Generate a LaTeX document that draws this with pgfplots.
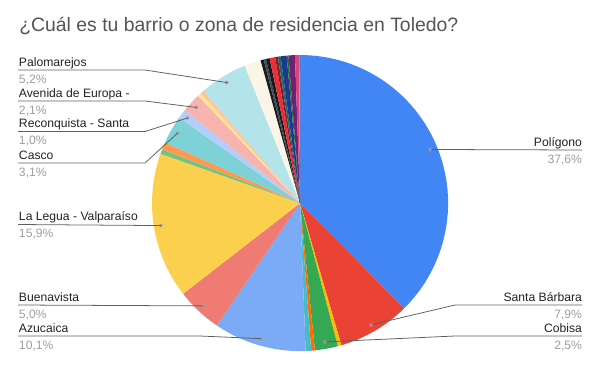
\documentclass[border=0pt]{standalone}
\usepackage{fontspec}
\setmainfont{Liberation Sans}
\usepackage{pgfplots}
\pgfplotsset{compat=1.18}
\definecolor{c1}{HTML}{4285F4}
\definecolor{c2}{HTML}{EA4335}
\definecolor{c3}{HTML}{FBBC04}
\definecolor{c4}{HTML}{34A853}
\definecolor{c5}{HTML}{FF6D01}
\definecolor{c6}{HTML}{46BDC6}
\definecolor{c7}{HTML}{7BAAF7}
\definecolor{c8}{HTML}{F07B72}
\definecolor{c9}{HTML}{FCD04F}
\definecolor{c10}{HTML}{71C287}
\definecolor{c11}{HTML}{FF994D}
\definecolor{c12}{HTML}{7ED1D7}
\definecolor{c13}{HTML}{B3CEFB}
\definecolor{c14}{HTML}{F7B4AE}
\definecolor{c15}{HTML}{FDE49B}
\definecolor{c16}{HTML}{FFC599}
\definecolor{c17}{HTML}{B3E4E9}
\definecolor{c18}{HTML}{FBF5E8}
\definecolor{k1}{HTML}{1B1B1B}
\definecolor{k2}{HTML}{3D4F5C}
\definecolor{k3}{HTML}{E8303A}
\definecolor{k4}{HTML}{8E1B2C}
\definecolor{k5}{HTML}{1F6B6B}
\definecolor{k6}{HTML}{1B3A8C}
\definecolor{k7}{HTML}{2B6B45}
\definecolor{k8}{HTML}{6C2370}
\definecolor{k9}{HTML}{D9457C}
\definecolor{k10}{HTML}{E07A2A}
\definecolor{dotgray}{HTML}{9E9E9E}
\definecolor{linegray}{HTML}{5F5F5F}
\definecolor{titlegray}{HTML}{555555}
\definecolor{pctgray}{HTML}{9E9E9E}
\definecolor{lblblack}{HTML}{222222}

\newcommand\cum{0}
\newcommand\slice[3]{%
  \pgfmathsetmacro\angA{90-3.6*\cum}%
  \pgfmathsetmacro\newcum{\cum+#2}%
  \pgfmathsetmacro\angB{90-3.6*\newcum}%
  \edef\doslice{\noexpand\addplot[draw=none,fill=#1,domain=\angB:\angA,samples=60] ({cos(x)},{sin(x)}) -- (axis cs:0,0) -- cycle;}%
  \doslice
  \if\relax\detokenize{#3}\relax\else
    \pgfmathsetmacro\midang{(\angA+\angB)/2}%
    \pgfmathsetmacro\dotx{0.953*cos(\midang)}%
    \pgfmathsetmacro\doty{0.953*sin(\midang)}%
    \edef\dodot{\noexpand\addplot[only marks,mark=*,mark size=1.2pt,color=dotgray] coordinates {(\dotx,\doty)}; \noexpand\coordinate (#3) at (axis cs:\dotx,\doty);}%
    \dodot
  \fi
  \xdef\cum{\newcum}%
}

\begin{document}
\begin{tikzpicture}[x=0.025cm,y=-0.025cm,
  lbl/.style={inner sep=0pt,outer sep=0pt,text=lblblack,font=\fontsize{8.65pt}{10pt}\selectfont},
  pct/.style={inner sep=0pt,outer sep=0pt,text=pctgray,font=\fontsize{8.65pt}{10pt}\selectfont},
  ld/.style={draw=linegray,line width=0.55pt}]
\path[use as bounding box] (0,0) rectangle (600,371);
\begin{axis}[at={(7.5cm,-5.075cm)}, anchor=origin, scale only axis,
  width=7.4cm, height=7.4cm, xmin=-1, xmax=1, ymin=-1, ymax=1,
  hide axis, clip=false]
 \slice{c1}{37.6}{pPol}
 \slice{c2}{7.9}{pSB}
 \slice{c3}{0.4}{}
 \slice{c4}{2.5}{pCob}
 \slice{c5}{0.4}{}
 \slice{c6}{0.6}{}
 \slice{c7}{10.1}{pAz}
 \slice{c8}{5.0}{pBu}
 \slice{c9}{15.9}{pLL}
 \slice{c10}{0.5}{}
 \slice{c11}{0.8}{}
 \slice{c12}{3.1}{pCa}
 \slice{c13}{1.0}{pRe}
 \slice{c14}{2.1}{pAv}
 \slice{c15}{0.4}{}
 \slice{c16}{0.4}{}
 \slice{c17}{5.2}{pPa}
 \slice{c18}{1.8}{}
 \slice{k1}{0.35}{}
 \slice{k2}{0.25}{}
 \slice{k1}{0.4}{}
 \slice{k3}{0.6}{}
 \slice{k4}{0.3}{}
 \slice{k5}{0.3}{}
 \slice{k6}{0.65}{}
 \slice{k7}{0.2}{}
 \slice{k8}{0.7}{}
 \slice{k9}{0.45}{}
 \slice{k10}{0.1}{}
\end{axis}
% title
\node[anchor=base west,inner sep=0pt,text=titlegray,font=\fontsize{13.8pt}{16pt}\selectfont] at (19,31) {¿Cuál es tu barrio o zona de residencia en Toledo?};
% right labels
\draw[ld] (pPol) -- (582,150);
\node[lbl,anchor=base east] at (582,146) {Polígono};
\node[pct,anchor=base east] at (582,163) {37,6\%};
\draw[ld] (pSB) -- (455,305) -- (582,305);
\node[lbl,anchor=base east] at (582,301) {Santa Bárbara};
\node[pct,anchor=base east] at (582,318) {7,9\%};
\draw[ld] (pCob) -- (455,336) -- (582,336);
\node[lbl,anchor=base east] at (582,332) {Cobisa};
\node[pct,anchor=base east] at (582,349) {2,5\%};
% left labels
\draw[ld] (pPa) -- (145,70) -- (18,70);
\node[lbl,anchor=base west] at (19,66) {Palomarejos};
\node[pct,anchor=base west] at (19,83) {5,2\%};
\draw[ld] (pAv) -- (145,101) -- (18,101);
\node[lbl,anchor=base west] at (19,97) {Avenida de Europa -};
\node[pct,anchor=base west] at (19,114) {2,1\%};
\draw[ld] (pRe) -- (145,131.5) -- (18,131.5);
\node[lbl,anchor=base west] at (19,127.5) {Reconquista - Santa};
\node[pct,anchor=base west] at (19,144.5) {1,0\%};
\draw[ld] (pCa) -- (145,163) -- (18,163);
\node[lbl,anchor=base west] at (19,159) {Casco};
\node[pct,anchor=base west] at (19,176) {3,1\%};
\draw[ld] (pLL) -- (18,224.5);
\node[lbl,anchor=base west] at (19,220.5) {La Legua - Valparaíso};
\node[pct,anchor=base west] at (19,237.5) {15,9\%};
\draw[ld] (pBu) -- (18,305);
\node[lbl,anchor=base west] at (19,301) {Buenavista};
\node[pct,anchor=base west] at (19,318) {5,0\%};
\draw[ld] (pAz) -- (200,336) -- (18,336);
\node[lbl,anchor=base west] at (19,332) {Azucaica};
\node[pct,anchor=base west] at (19,349) {10,1\%};
\end{tikzpicture}
\end{document}
